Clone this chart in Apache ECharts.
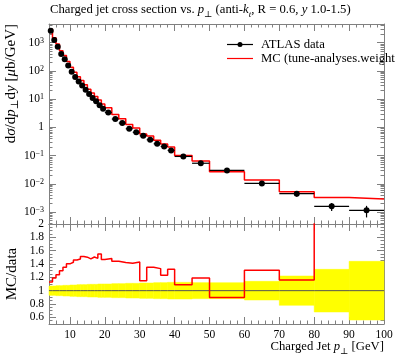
<!DOCTYPE html>
<html><head><meta charset="utf-8">
<script src="https://cdn.jsdelivr.net/npm/echarts@6/dist/echarts.min.js"></script>
<style>html,body{margin:0;padding:0;background:#fff}#c{width:397px;height:358px}</style>
</head><body><div id="c"></div>
<script>
// ---- data ----
const binLo = [4,5,6,7,8,9,10,11,12,13,14,15,16,17,18,19,20,22,24,26,28,30,32,34,36,38,40,45,50,60,70,80,90];
const binHi = [5,6,7,8,9,10,11,12,13,14,15,16,17,18,19,20,22,24,26,28,30,32,34,36,38,40,45,50,60,70,80,90,100];
const dataVals = [2655,1245,722,398,259,154,94,61,42,30.3,21.3,15.1,10.9,8.35,6.03,4.54,
                  3.37,1.97,1.42,0.893,0.671,0.505,0.365,0.263,0.211,0.153,
                  0.0937,0.0538,0.030,0.0104,0.00451,0.0016,0.00116];
const dataRelErr = [0.07,0.07,0.075,0.075,0.08,0.08,0.085,0.085,0.09,0.09,0.09,0.095,0.095,0.095,0.1,0.1,
                    0.1,0.105,0.105,0.11,0.11,0.115,0.115,0.12,0.12,0.125,
                    0.125,0.12,0.12,0.14,0.22,0.32,0.44];
const mcVals = [3000,1482,895,517,350,216,134,89,62,45.8,32,22.3,16.4,12.4,9.35,6.67,
                4.99,2.84,2.02,1.26,0.96,0.581,0.493,0.350,0.260,0.202,
                0.102,0.064,0.0269,0.0136,0.00523,0.00333,0.00293];
const ratioTicks = [0.6,0.8,1,1.2,1.4,1.6,1.8,2];
const seriesNames = ['ATLAS data', 'MC (tune-analyses.weight'];

// ---- build ----
const F = '"Liberation Serif","DejaVu Serif",serif';
const FS = 12.7;   // title, legend, x label
const FT = 11.5;   // tick labels
const FY = 15;     // rotated y labels
const TC = '#808080';
const X_MIN = 4, X_MAX = 100;
const Y_MIN = Math.pow(10, -3.42), Y_MAX = Math.pow(10, 3.66);

const mcStep = [], ratioStep = [], oneStep = [];
binLo.forEach((lo, i) => {
  const hi = binHi[i];
  mcStep.push([lo, mcVals[i]], [hi, mcVals[i]]);
  const r = mcVals[i] / dataVals[i];
  ratioStep.push([lo, r], [hi, r]);
  oneStep.push([lo, 1], [hi, 1]);
});

function xAx(g, pos, lab) {
  return {type:'value', gridIndex:g, position:pos, min:X_MIN, max:X_MAX, splitNumber:10,
    axisLine:{show:true, onZero:false, lineStyle:{color:TC, width:1}},
    axisTick:{show:true, inside:true, length:7, lineStyle:{color:TC}},
    minorTick:{show:true, splitNumber:5, length:3.5, lineStyle:{color:TC}},
    axisLabel:{show:lab, showMinLabel:false, showMaxLabel:true, hideOverlap:false, color:'#000', fontFamily:F, fontSize:FT, margin:5},
    splitLine:{show:false}};
}
function logFmt(v) {
  const e = Math.log10(v), n = Math.round(e);
  if (Math.abs(e - n) > 0.01) return '';
  if (n === 0) return '{b|1}';
  return '{b|10}{s|' + (n < 0 ? '\u2212' + (-n) : n) + '}';
}
function yLog(pos, lab) {
  return {type:'log', logBase:10, gridIndex:0, position:pos, min:Y_MIN, max:Y_MAX,
    axisLine:{show:true, lineStyle:{color:TC, width:1}},
    axisTick:{show:true, inside:true, length:7, lineStyle:{color:TC}},
    minorTick:{show:true, splitNumber:9, length:3.5, lineStyle:{color:TC}},
    axisLabel:{show:lab, showMinLabel:false, showMaxLabel:false, formatter:logFmt, margin:5, color:'#000',
      rich:{b:{fontFamily:F, fontSize:FT, lineHeight:12, verticalAlign:'bottom', color:'#000'},
            s:{fontFamily:F, fontSize:8, lineHeight:6, verticalAlign:'top', color:'#000'}}},
    splitLine:{show:false}};
}
function yRat(pos, lab) {
  return {type:'value', gridIndex:1, position:pos, min:0.5, max:2, splitNumber:8,
    axisLine:{show:true, lineStyle:{color:TC, width:1}},
    axisTick:{show:true, inside:true, length:7, lineStyle:{color:TC}},
    minorTick:{show:true, splitNumber:4, length:3.5, lineStyle:{color:TC}},
    axisLabel:{show:false},
    splitLine:{show:false}};
}
function richFor(fs) {
  return {i:{fontFamily:F, fontSize:fs, fontStyle:'italic', lineHeight:fs + 5},
          sub:{fontFamily:F, fontSize:fs * 0.7, lineHeight:fs * 0.7 + 2, verticalAlign:'bottom'},
          isub:{fontFamily:F, fontSize:fs * 0.7, fontStyle:'italic', lineHeight:fs * 0.7 + 2, verticalAlign:'bottom'}};
}

const option = {
  animation:false,
  backgroundColor:'#fff',
  grid:[{left:49, top:24, width:335, height:200},
        {left:49, top:224, width:335, height:100}],
  xAxis:[xAx(0,'bottom',false), xAx(0,'top',false), xAx(1,'bottom',true), xAx(1,'top',false)],
  yAxis:[yLog('left',true), yLog('right',false), yRat('left',true), yRat('right',false)],
  series:[
    {type:'line', name:seriesNames[1], xAxisIndex:0, yAxisIndex:0, data:mcStep, symbol:'none',
     lineStyle:{color:'#ff0000', width:1.5}, z:3},
    {type:'custom', name:seriesNames[0], xAxisIndex:0, yAxisIndex:0, z:4,
     data: binLo.map((lo,i) => [lo, binHi[i], dataVals[i], dataRelErr[i]]),
     encode:{x:[0,1], y:2},
     renderItem:(params, api) => {
       const lo = api.value(0), hi = api.value(1), v = api.value(2), e = api.value(3);
       const m = (lo + hi) / 2;
       const pL = api.coord([lo, v]), pR = api.coord([hi, v]), pC = api.coord([m, v]);
       const pT = api.coord([m, v * (1 + e)]), pB = api.coord([m, v * (1 - e)]);
       return {type:'group', children:[
         {type:'line', shape:{x1:pL[0], y1:pL[1], x2:pR[0], y2:pR[1]}, style:{stroke:'#000', lineWidth:1.2}},
         {type:'line', shape:{x1:pT[0], y1:pT[1], x2:pB[0], y2:pB[1]}, style:{stroke:'#000', lineWidth:1.2}},
         {type:'circle', shape:{cx:pC[0], cy:pC[1], r:3}, style:{fill:'#000'}}
       ]};
     }},
    {type:'custom', xAxisIndex:2, yAxisIndex:2, z:1,
     data: binLo.map((lo,i) => [lo, binHi[i], dataRelErr[i]]),
     encode:{x:[0,1], y:2},
     renderItem:(params, api) => {
       const lo = api.value(0), hi = api.value(1), e = api.value(2);
       const a = api.coord([lo, 1 + e]), b = api.coord([hi, 1 - e]);
       return {type:'rect', shape:{x:a[0], y:a[1], width:b[0]-a[0], height:b[1]-a[1]},
               style:{fill:'#ffff00', stroke:'#ffff00', lineWidth:0.5}};
     }},
    {type:'line', xAxisIndex:2, yAxisIndex:2, data:oneStep, symbol:'none',
     lineStyle:{color:'#555', width:1}, z:2},
    {type:'line', xAxisIndex:2, yAxisIndex:2, data:ratioStep, symbol:'none',
     lineStyle:{color:'#ff0000', width:1.5}, z:3},
    // tick labels of the ratio axis, placed through the axis scale
    {type:'custom', xAxisIndex:2, yAxisIndex:2, z:5, clip:false, silent:true,
     data: ratioTicks.map(t => [X_MIN, t]),
     encode:{x:0, y:1},
     renderItem:(params, api) => {
       const p = api.coord([api.value(0), api.value(1)]);
       return {type:'text', x:p[0] - 5, y:p[1], style:{text:String(api.value(1)), fontFamily:F, fontSize:FT,
               fill:'#000', align:'right', verticalAlign:'middle'}};
     }}
  ],
  graphic:[
    {type:'text', x:50, y:10, style:{
      text:'Charged jet cross section vs. {i|p}{sub|\u22a5} (anti-{i|k}{isub|t}, R = 0.6, {i|y} 1.0-1.5)',
      fontFamily:F, fontSize:FS, lineHeight:FS + 5, fill:'#000', align:'left', verticalAlign:'middle', rich:richFor(FS)}},
    {type:'text', x:11, y:24, rotation:Math.PI/2, style:{
      text:'d{i|\u03c3}/d{i|p}{sub|\u22a5}d{i|y} [{i|\u03bc}b/GeV]',
      fontFamily:F, fontSize:FY, lineHeight:FY + 5, fill:'#000', align:'right', verticalAlign:'middle', rich:richFor(FY)}},
    {type:'text', x:12, y:274, rotation:Math.PI/2, style:{
      text:'MC/data', fontFamily:F, fontSize:FY, fill:'#000', align:'center', verticalAlign:'middle'}},
    {type:'text', x:384, y:347, style:{
      text:'Charged Jet {i|p}{sub|\u22a5} [GeV]',
      fontFamily:F, fontSize:FS, lineHeight:FS + 5, fill:'#000', align:'right', verticalAlign:'middle', rich:richFor(FS)}},
    // legend
    {type:'line', shape:{x1:227, y1:44.5, x2:253, y2:44.5}, style:{stroke:'#000', lineWidth:1.2}},
    {type:'circle', shape:{cx:240, cy:44.5, r:2.5}, style:{fill:'#000'}},
    {type:'text', x:261, y:44.5, style:{text:seriesNames[0], fontFamily:F, fontSize:FS, fill:'#000', verticalAlign:'middle'}},
    {type:'line', shape:{x1:227, y1:58.5, x2:253, y2:58.5}, style:{stroke:'#ff0000', lineWidth:1.2}},
    {type:'text', x:261, y:58.5, style:{text:seriesNames[1], fontFamily:F, fontSize:FS, fill:'#000', verticalAlign:'middle'}}
  ]
};
const chart = echarts.init(document.getElementById('c'), null, {renderer:'canvas'});
chart.setOption(option);
</script></body></html>
